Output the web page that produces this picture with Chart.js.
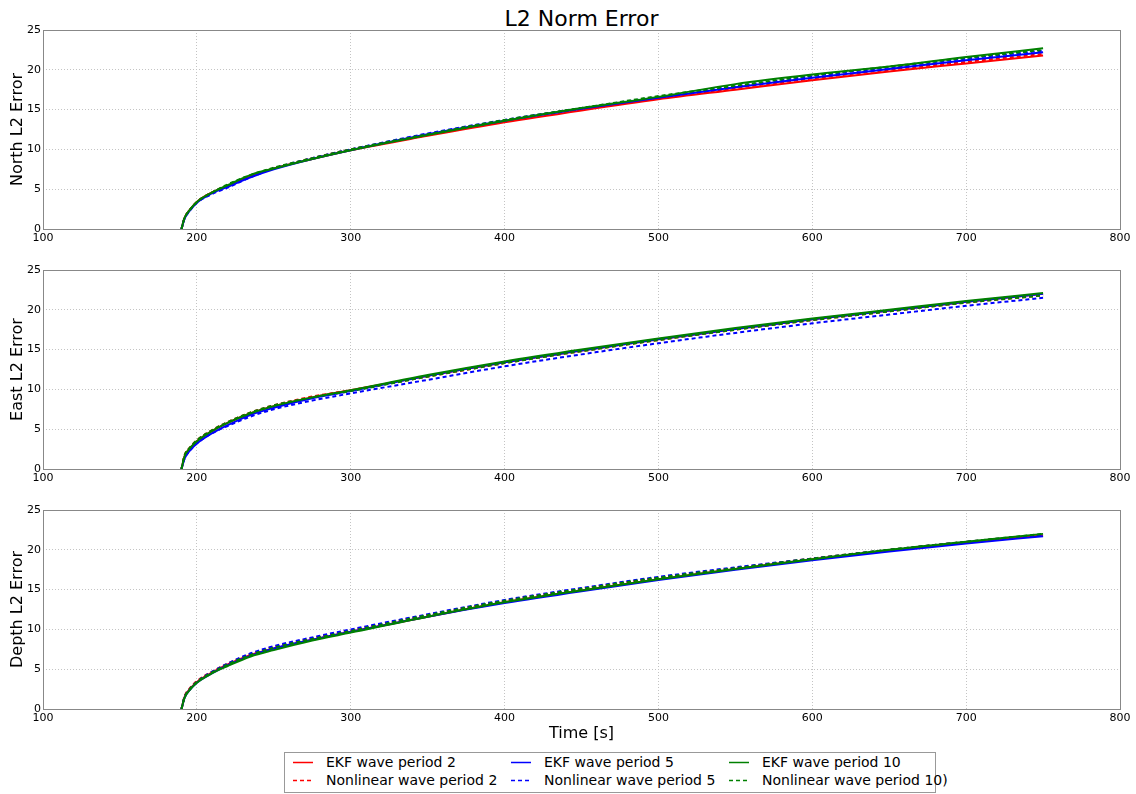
<!DOCTYPE html>
<html>
<head>
<meta charset="utf-8">
<script src="https://cdn.jsdelivr.net/npm/chart.js@4/dist/chart.umd.min.js"></script>
<style>
  body { margin: 0; background: #fff; font-family: 'DejaVu Sans', sans-serif; }
  #page { position: relative; width: 1136px; height: 794px; overflow: hidden; }
  .panel { position: absolute; left: 0; width: 1136px; height: 229px; }
  #title { position: absolute; left: 43px; width: 1077px; top: 8px; text-align: center; font-size: 22px; line-height: 22px; }
  #xtitle { position: absolute; left: 43px; width: 1077px; top: 725px; text-align: center; font-size: 16px; line-height: 16px; }
  #legend { position: absolute; left: 284px; top: 752px; width: 652px; height: 41px; border: 1px solid #999; box-sizing: border-box; font-size: 14px; }
  .item { position: absolute; height: 18px; line-height: 18px; white-space: nowrap; }
  .item svg { position: absolute; left: 0; top: 0; }
  .item span { position: absolute; left: 33px; top: 0; }
</style>
</head>
<body>
<div id="page">
  <div id="title">L2 Norm Error</div>
  <div class="panel" style="top:20px"><canvas id="north"></canvas></div>
  <div class="panel" style="top:260px"><canvas id="east"></canvas></div>
  <div class="panel" style="top:500px"><canvas id="depth"></canvas></div>
  <div id="xtitle">Time [s]</div>
  <div id="legend"></div>
</div>
<script>
// time stamps [s]
const times = [190, 192, 195, 200, 210, 220, 235, 250, 275, 300, 350, 400, 450, 500, 550, 600, 650, 700, 750]

// north
const northEkf2 = [0, 1.4, 2.3, 3.4, 4.6, 5.4, 6.6, 7.6, 8.8, 9.9, 11.7, 13.4, 14.9, 16.3, 17.5, 18.7, 19.8, 20.8, 21.8]
const northNl2 = [0, 1.4, 2.3, 3.4, 4.6, 5.5, 6.7, 7.6, 8.9, 10.0, 11.8, 13.5, 15.0, 16.4, 17.7, 18.9, 20.0, 21.0, 22.0]
const northEkf5 = [0, 1.3, 2.2, 3.3, 4.5, 5.3, 6.5, 7.5, 8.8, 9.9, 11.9, 13.6, 15.1, 16.5, 17.8, 19.0, 20.1, 21.2, 22.2]
const northNl5 = [0, 1.3, 2.2, 3.3, 4.4, 5.2, 6.5, 7.6, 8.9, 10.0, 12.0, 13.7, 15.2, 16.6, 17.9, 19.2, 20.3, 21.4, 22.4]
const northEkf10 = [0, 1.4, 2.3, 3.4, 4.6, 5.5, 6.8, 7.6, 8.8, 9.9, 11.8, 13.6, 15.2, 16.6, 18.2, 19.4, 20.4, 21.6, 22.7]
const northNl10 = [0, 1.4, 2.3, 3.4, 4.6, 5.6, 6.8, 7.7, 8.9, 10.0, 11.9, 13.7, 15.2, 16.7, 18.0, 19.3, 20.4, 21.5, 22.5]

// east
const eastEkf2 = [0, 1.6, 2.5, 3.5, 4.8, 5.8, 7.0, 7.9, 9.0, 9.9, 11.7, 13.4, 14.9, 16.3, 17.6, 18.8, 19.9, 21.0, 22.0]
const eastNl2 = [0, 1.7, 2.6, 3.6, 4.9, 5.9, 7.1, 8.0, 9.1, 9.9, 11.6, 13.3, 14.8, 16.2, 17.5, 18.7, 19.8, 20.9, 21.8]
const eastEkf5 = [0, 1.3, 2.2, 3.2, 4.5, 5.5, 6.8, 7.7, 8.9, 9.8, 11.7, 13.4, 14.9, 16.3, 17.6, 18.8, 19.9, 21.0, 22.0]
const eastNl5 = [0, 1.3, 2.2, 3.2, 4.5, 5.4, 6.6, 7.5, 8.6, 9.5, 11.2, 12.9, 14.4, 15.8, 17.1, 18.3, 19.4, 20.5, 21.5]
const eastEkf10 = [0, 1.6, 2.5, 3.5, 4.8, 5.8, 7.0, 7.9, 9.0, 9.9, 11.8, 13.5, 15.0, 16.4, 17.7, 18.9, 20.0, 21.1, 22.1]
const eastNl10 = [0, 1.7, 2.6, 3.6, 4.9, 5.9, 7.1, 8.0, 9.0, 9.8, 11.6, 13.3, 14.8, 16.2, 17.5, 18.7, 19.8, 20.9, 21.8]

// depth
const depthEkf2 = [0, 1.5, 2.4, 3.4, 4.6, 5.6, 6.8, 7.6, 8.7, 9.7, 11.6, 13.4, 14.9, 16.3, 17.6, 18.8, 19.9, 20.9, 21.8]
const depthNl2 = [0, 1.6, 2.5, 3.5, 4.7, 5.7, 6.9, 7.8, 8.9, 9.9, 11.8, 13.6, 15.1, 16.5, 17.7, 18.9, 20.0, 21.0, 21.9]
const depthEkf5 = [0, 1.4, 2.3, 3.3, 4.5, 5.5, 6.7, 7.6, 8.7, 9.7, 11.6, 13.3, 14.8, 16.2, 17.5, 18.7, 19.8, 20.8, 21.7]
const depthNl5 = [0, 1.5, 2.4, 3.4, 4.7, 5.7, 7.0, 7.9, 9.0, 10.0, 11.9, 13.7, 15.2, 16.6, 17.8, 18.9, 20.0, 21.0, 21.9]
const depthEkf10 = [0, 1.4, 2.3, 3.3, 4.5, 5.4, 6.6, 7.4, 8.6, 9.6, 11.6, 13.4, 14.9, 16.3, 17.6, 18.8, 20.0, 21.0, 22.0]
const depthNl10 = [0, 1.5, 2.4, 3.4, 4.6, 5.6, 6.8, 7.7, 8.8, 9.8, 11.8, 13.6, 15.1, 16.5, 17.7, 18.9, 20.0, 21.0, 22.0]

const seriesLabels = ['EKF wave period 2', 'Nonlinear wave period 2', 'EKF wave period 5',
    'Nonlinear wave period 5', 'EKF wave period 10', 'Nonlinear wave period 10)']
const seriesColors = ['#ff0000', '#ff0000', '#0000ff', '#0000ff', '#008000', '#008000']
const seriesDashed = [false, true, false, true, false, true]

const xTicks = [100, 200, 300, 400, 500, 600, 700, 800]
const yTicks = [0, 5, 10, 15, 20, 25]

Chart.defaults.font.family = "'DejaVu Sans', sans-serif"
Chart.defaults.color = '#000'

// matplotlib style box round the axes
const frame = {
    id: 'frame',
    afterDraw(chart) {
        let a = chart.chartArea
        let ctx = chart.ctx
        ctx.save()
        ctx.strokeStyle = '#888'
        ctx.lineWidth = 1
        ctx.strokeRect(Math.round(a.left) + 0.5, Math.round(a.top) + 0.5, Math.round(a.right - a.left), Math.round(a.bottom - a.top))
        ctx.restore()
    }
}

function draw_panel(id, yLabel, series) {
    let datasets = series.map((vals, i) => ({
        label: seriesLabels[i],
        data: times.map((t, j) => ({ x: t, y: vals[j] })),
        borderColor: seriesColors[i],
        borderWidth: 2,
        borderDash: seriesDashed[i] ? [4, 3] : [],
        pointRadius: 0,
        fill: false,
        cubicInterpolationMode: 'monotone',
        order: series.length - i // last one on top, like matplotlib
    }))

    let grid = { color: '#c4c4c4', drawTicks: false, lineWidth: 1 }
    let border = { display: false, dash: [1, 2] }

    new Chart(document.getElementById(id), {
        type: 'line',
        data: { datasets: datasets },
        options: {
            responsive: true,
            maintainAspectRatio: false,
            animation: false,
            layout: { padding: { top: 10, right: 16, left: 0, bottom: 0 } },
            plugins: { legend: { display: false }, tooltip: { enabled: false } },
            scales: {
                x: {
                    type: 'linear',
                    min: xTicks[0],
                    max: xTicks[xTicks.length - 1],
                    afterBuildTicks: s => { s.ticks = xTicks.map(v => ({ value: v })) },
                    afterFit: s => { s.height = 20 },
                    grid: grid,
                    border: border,
                    ticks: { autoSkip: false, maxRotation: 0, padding: 3, font: { size: 11 } }
                },
                y: {
                    min: yTicks[0],
                    max: yTicks[yTicks.length - 1],
                    afterBuildTicks: s => { s.ticks = yTicks.map(v => ({ value: v })) },
                    afterFit: s => { s.width = 43 },
                    grid: grid,
                    border: border,
                    ticks: { padding: 2, font: { size: 11 } },
                    title: { display: true, text: yLabel, font: { size: 16 }, padding: { top: 8, bottom: 0 } }
                }
            }
        },
        plugins: [frame]
    })
}

draw_panel('north', 'North L2 Error', [northEkf2, northNl2, northEkf5, northNl5, northEkf10, northNl10])
draw_panel('east', 'East L2 Error', [eastEkf2, eastNl2, eastEkf5, eastNl5, eastEkf10, eastNl10])
draw_panel('depth', 'Depth L2 Error', [depthEkf2, depthNl2, depthEkf5, depthNl5, depthEkf10, depthNl10])

// legend: 3 columns, 2 rows (column major like matplotlib ncol=3)
let legend = document.getElementById('legend')
for (let i = 0; i < seriesLabels.length; i++) {
    let col = Math.floor(i / 2)
    let row = i % 2
    let item = document.createElement('div')
    item.className = 'item'
    item.style.left = (8 + col * 218) + 'px'
    item.style.top = (row === 0 ? 0 : 18) + 'px'
    let dash = seriesDashed[i] ? 'stroke-dasharray="4 3"' : ''
    item.innerHTML = `<svg width="20" height="18"><line x1="0" y1="9.5" x2="20" y2="9.5" stroke="${seriesColors[i]}" stroke-width="1.5" ${dash}/></svg><span>${seriesLabels[i]}</span>`
    legend.appendChild(item)
}
</script>
</body>
</html>
